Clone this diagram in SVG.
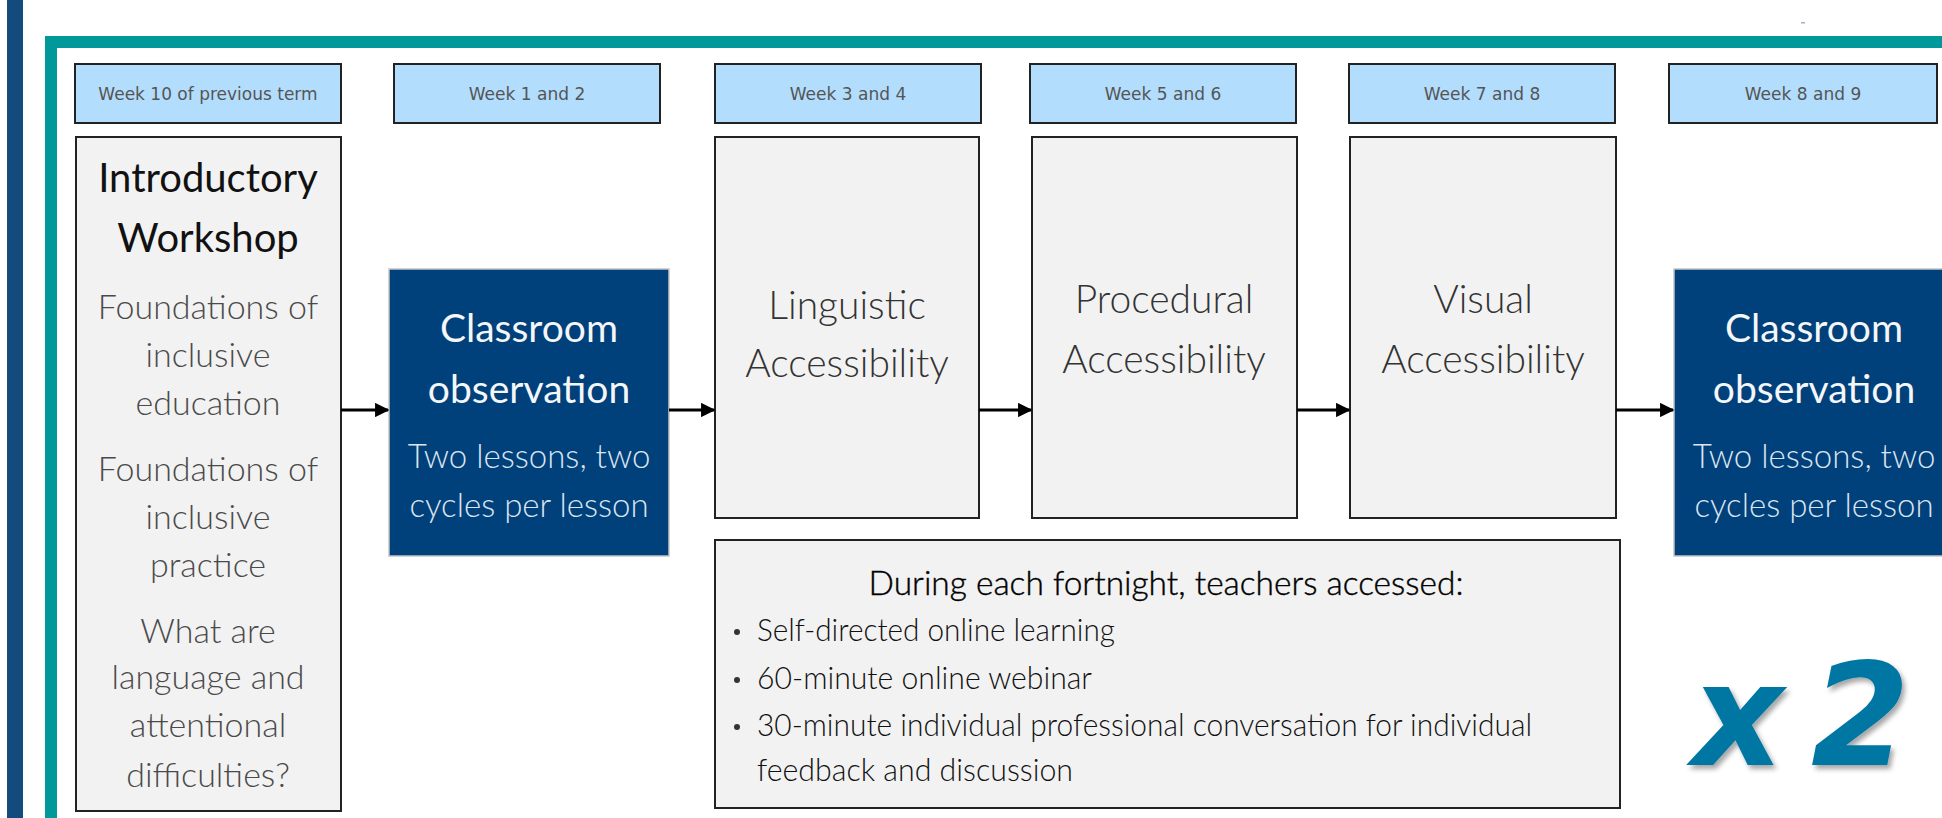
<svg xmlns="http://www.w3.org/2000/svg" width="1942" height="818" viewBox="0 0 1942 818">
  <defs>
    <style>
      .week { fill: #b3ddfd; stroke: #222; stroke-width: 2; }
      .weektxt { font-family: "DejaVu Sans", "Liberation Sans", sans-serif; font-size: 17px; fill: #555; text-anchor: middle; }
      .panel { fill: #f2f2f2; stroke: #222; stroke-width: 2; }
      .obs { fill: #00407b; stroke: #c4c4c4; stroke-width: 1.5; }
      .head { font-family: Lato, "Liberation Sans", sans-serif; font-size: 40px; fill: #111; text-anchor: middle; }
      .sub { font-family: Lato, "Liberation Sans", sans-serif; font-weight: 300; font-size: 34px; fill: #4a4a4a; text-anchor: middle; }
      .topic { font-family: Lato, "Liberation Sans", sans-serif; font-weight: 300; font-size: 39px; fill: #333; text-anchor: middle; }
      .obshead { font-family: Lato, "Liberation Sans", sans-serif; font-size: 39px; fill: #f4f6f8; text-anchor: middle; }
      .obssub { font-family: Lato, "Liberation Sans", sans-serif; font-weight: 300; font-size: 33px; fill: #dce5ef; text-anchor: middle; }
      .fn { font-family: Lato, "Liberation Sans", sans-serif; font-weight: 300; font-size: 31px; fill: #111; }
      .fnhead { font-family: Lato, "Liberation Sans", sans-serif; font-weight: 300; font-size: 33px; fill: #000; text-anchor: middle; stroke: #000; stroke-width: 0.4; }
      .dot { fill: #333; }
      .link { stroke: #000; stroke-width: 3; fill: none; }
      .times { font-family: "DejaVu Sans", Verdana, sans-serif; font-weight: bold; font-style: italic; font-size: 142px; fill: #0077a3; word-spacing: -22px; }
    </style>
    <marker id="arrow" viewBox="0 0 10 10" refX="9" refY="5" markerWidth="4.8" markerHeight="4.8" orient="auto" markerUnits="strokeWidth">
      <path d="M0,0 L10,5 L0,10 z" fill="#000"/>
    </marker>
    <filter id="shadow" x="-20%" y="-20%" width="140%" height="140%">
      <feDropShadow dx="3" dy="4" stdDeviation="2.5" flood-color="#000" flood-opacity="0.35"/>
    </filter>
  </defs>

  <rect width="1942" height="818" fill="#fff"/>

  <!-- page frame -->
  <rect x="7" y="0" width="16" height="818" fill="#134b7c"/>
  <rect x="51" y="42" width="1960" height="900" fill="none" stroke="#009898" stroke-width="12"/>
  <rect x="1801" y="22" width="4" height="1.5" fill="#9fb4cc"/>

  <!-- timeline headers -->
  <g id="week-10">
    <rect class="week" x="75" y="64" width="266" height="59"/>
    <text class="weektxt" x="208" y="100">Week 10 of previous term</text>
  </g>
  <g id="week-1-2">
    <rect class="week" x="394" y="64" width="266" height="59"/>
    <text class="weektxt" x="527" y="100">Week 1 and 2</text>
  </g>
  <g id="week-3-4">
    <rect class="week" x="715" y="64" width="266" height="59"/>
    <text class="weektxt" x="848" y="100">Week 3 and 4</text>
  </g>
  <g id="week-5-6">
    <rect class="week" x="1030" y="64" width="266" height="59"/>
    <text class="weektxt" x="1163" y="100">Week 5 and 6</text>
  </g>
  <g id="week-7-8">
    <rect class="week" x="1349" y="64" width="266" height="59"/>
    <text class="weektxt" x="1482" y="100">Week 7 and 8</text>
  </g>
  <g id="week-8-9">
    <rect class="week" x="1669" y="64" width="268" height="59"/>
    <text class="weektxt" x="1803" y="100">Week 8 and 9</text>
  </g>

  <!-- introductory workshop -->
  <g id="intro-workshop">
    <rect class="panel" x="76" y="137" width="265" height="674"/>
    <text class="head" x="208" y="192">Introductory</text>
    <text class="head" x="208" y="252">Workshop</text>
    <text class="sub" x="208" y="319">Foundations of</text>
    <text class="sub" x="208" y="367">inclusive</text>
    <text class="sub" x="208" y="415">education</text>
    <text class="sub" x="208" y="481">Foundations of</text>
    <text class="sub" x="208" y="529">inclusive</text>
    <text class="sub" x="208" y="577">practice</text>
    <text class="sub" x="208" y="643">What are</text>
    <text class="sub" x="208" y="689">language and</text>
    <text class="sub" x="208" y="737">attentional</text>
    <text class="sub" x="208" y="787">difficulties?</text>
  </g>

  <!-- first observation -->
  <g id="observation-1">
    <rect class="obs" x="389" y="269" width="280" height="287"/>
    <text class="obshead" x="529" y="342">Classroom</text>
    <text class="obshead" x="529" y="403">observation</text>
    <text class="obssub" x="529" y="468">Two lessons, two</text>
    <text class="obssub" x="529" y="517">cycles per lesson</text>
  </g>

  <!-- accessibility modules -->
  <g id="linguistic">
    <rect class="panel" x="715" y="137" width="264" height="381"/>
    <text class="topic" x="847" y="319">Linguistic</text>
    <text class="topic" x="847" y="377">Accessibility</text>
  </g>
  <g id="procedural">
    <rect class="panel" x="1032" y="137" width="265" height="381"/>
    <text class="topic" x="1164" y="313">Procedural</text>
    <text class="topic" x="1164" y="373">Accessibility</text>
  </g>
  <g id="visual">
    <rect class="panel" x="1350" y="137" width="266" height="381"/>
    <text class="topic" x="1483" y="313">Visual</text>
    <text class="topic" x="1483" y="373">Accessibility</text>
  </g>

  <!-- second observation -->
  <g id="observation-2">
    <rect class="obs" x="1674" y="269" width="280" height="287"/>
    <text class="obshead" x="1814" y="342">Classroom</text>
    <text class="obshead" x="1814" y="403">observation</text>
    <text class="obssub" x="1814" y="468">Two lessons, two</text>
    <text class="obssub" x="1814" y="517">cycles per lesson</text>
  </g>

  <!-- fortnightly activities -->
  <g id="fortnight">
    <rect class="panel" x="715" y="540" width="905" height="268"/>
    <text class="fnhead" x="1166" y="595" textLength="595" lengthAdjust="spacingAndGlyphs">During each fortnight, teachers accessed:</text>
    <circle class="dot" cx="737" cy="632" r="3"/>
    <text class="fn" x="757" y="641" textLength="358" lengthAdjust="spacingAndGlyphs">Self-directed online learning</text>
    <circle class="dot" cx="737" cy="680" r="3"/>
    <text class="fn" x="757" y="689" textLength="335" lengthAdjust="spacingAndGlyphs">60-minute online webinar</text>
    <circle class="dot" cx="737" cy="727" r="3"/>
    <text class="fn" x="757" y="736" textLength="775" lengthAdjust="spacingAndGlyphs">30-minute individual professional conversation for individual</text>
    <text class="fn" x="757" y="781" textLength="316" lengthAdjust="spacingAndGlyphs">feedback and discussion</text>
  </g>

  <!-- repeat marker -->
  <g id="repeat">
    <text class="times" x="1692" y="765" filter="url(#shadow)">x 2</text>
  </g>

  <!-- connectors -->
  <g id="connectors">
    <line class="link" x1="341" y1="410" x2="388" y2="410" marker-end="url(#arrow)"/>
    <line class="link" x1="669" y1="410" x2="714" y2="410" marker-end="url(#arrow)"/>
    <line class="link" x1="979" y1="410" x2="1031" y2="410" marker-end="url(#arrow)"/>
    <line class="link" x1="1297" y1="410" x2="1349" y2="410" marker-end="url(#arrow)"/>
    <line class="link" x1="1616" y1="410" x2="1673" y2="410" marker-end="url(#arrow)"/>
  </g>
</svg>
